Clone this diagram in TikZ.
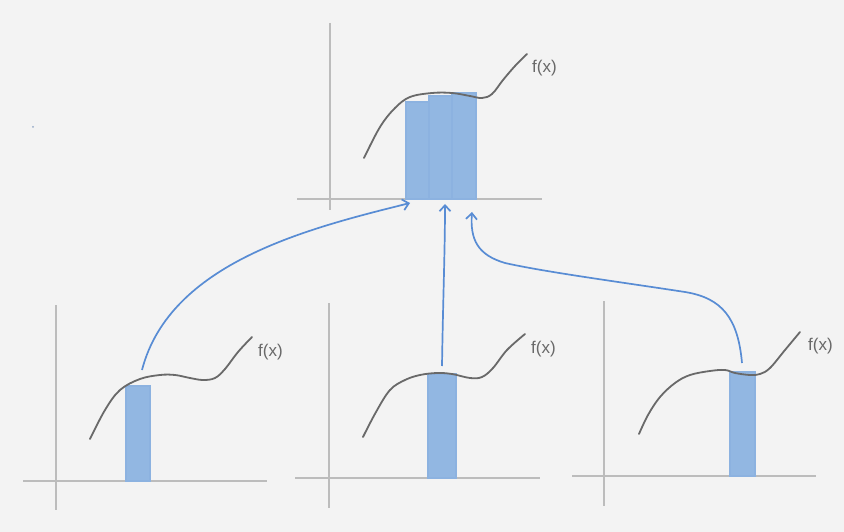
\documentclass[tikz,border=0pt]{standalone}
\usepackage{fontspec}
\setmainfont{Liberation Sans}
\usetikzlibrary{arrows.meta}
\definecolor{paper}{RGB}{243,243,243}
\definecolor{axisgray}{RGB}{188,188,188}
\definecolor{curvegray}{RGB}{105,105,105}
\definecolor{fillblue}{RGB}{146,183,226}
\definecolor{edgeblue}{RGB}{140,178,224}
\definecolor{arrowblue}{RGB}{88,140,212}
\tikzset{
  axisline/.style={draw=axisgray,line width=2pt},
  fcurve/.style={draw=curvegray,line width=1.8pt,line cap=round},
  strip/.style={fill=fillblue,draw=edgeblue,line width=1.2pt},
  flabel/.style={text=curvegray,font=\fontsize{17}{17}\selectfont,inner sep=0pt},
  flow/.style={draw=arrowblue,line width=1.7pt,-{Straight Barb[length=6pt,width=11pt]}},
}
\begin{document}
\begin{tikzpicture}[x=1pt,y=-1pt]
\useasboundingbox (0,0) rectangle (844,532);
\fill[paper] (0,0) rectangle (844,532);
\fill[color=axisgray!60!arrowblue] (33,127) circle (1pt);

% ---------- top graph ----------
\draw[axisline] (330,23) -- (330,210);
\draw[axisline] (297,199) -- (542,199);
\draw[strip] (406,199) rectangle (429,102);
\draw[strip] (429,199) rectangle (452,96);
\draw[strip] (452,199) rectangle (476,93);
\draw[fcurve] plot[smooth,tension=0.6] coordinates {(364,158) (380,127) (395,108) (410,97) (432,93) (452,93) (470,96) (482,98) (492,94) (503,80) (515,66) (527,54)};
\node[flabel,anchor=west] (ftop) at (532,68) {f(x)};
\coordinate (inA) at (410,203);
\coordinate (inB) at (445,204);
\coordinate (inC) at (472,212);

% ---------- bottom left ----------
\draw[axisline] (56,305) -- (56,510);
\draw[axisline] (23,481) -- (267,481);
\draw[strip] (126,481) rectangle (150,386);
\draw[fcurve] plot[smooth,tension=0.6] coordinates {(90,439) (105,410) (120,390) (140,379) (160,375) (175,375) (190,378) (203,380) (215,378) (225,369) (238,352) (252,337)};
\node[flabel,anchor=west] (fleft) at (258,352) {f(x)};
\coordinate (outA) at (142,370);

% ---------- bottom middle ----------
\draw[axisline] (329,303) -- (329,508);
\draw[axisline] (295,478) -- (540,478);
\draw[strip] (428,478) rectangle (456,374);
\draw[fcurve] plot[smooth,tension=0.6] coordinates {(363,437) (376,412) (390,390) (405,380) (420,375) (437,373) (452,374) (470,378) (482,377) (493,368) (507,350) (525,334)};
\node[flabel,anchor=west] (fmid) at (531,349) {f(x)};
\coordinate (outB) at (442,366);

% ---------- bottom right ----------
\draw[axisline] (604,301) -- (604,506);
\draw[axisline] (572,476) -- (816,476);
\draw[strip] (730,476) rectangle (755,372);
\draw[fcurve] plot[smooth,tension=0.6] coordinates {(639,434) (648,415) (660,397) (675,383) (690,375) (710,371) (725,370) (735,373) (750,375) (760,374) (770,368) (785,350) (800,332)};
\node[flabel,anchor=west] (fright) at (808,346) {f(x)};
\coordinate (outC) at (742,363);

% ---------- arrows ----------
\draw[flow] (outA) .. controls (170,262) and (310,228) .. (inA);
\draw[flow] (outB) .. controls (443,300) and (445,250) .. (inB);
\draw[flow] (outC) .. controls (738,318) and (722,298) .. (685,292)
  .. controls (620,282) and (545,272) .. (505,263)
  .. controls (478,255) and (470,240) .. (inC);
\end{tikzpicture}
\end{document}
